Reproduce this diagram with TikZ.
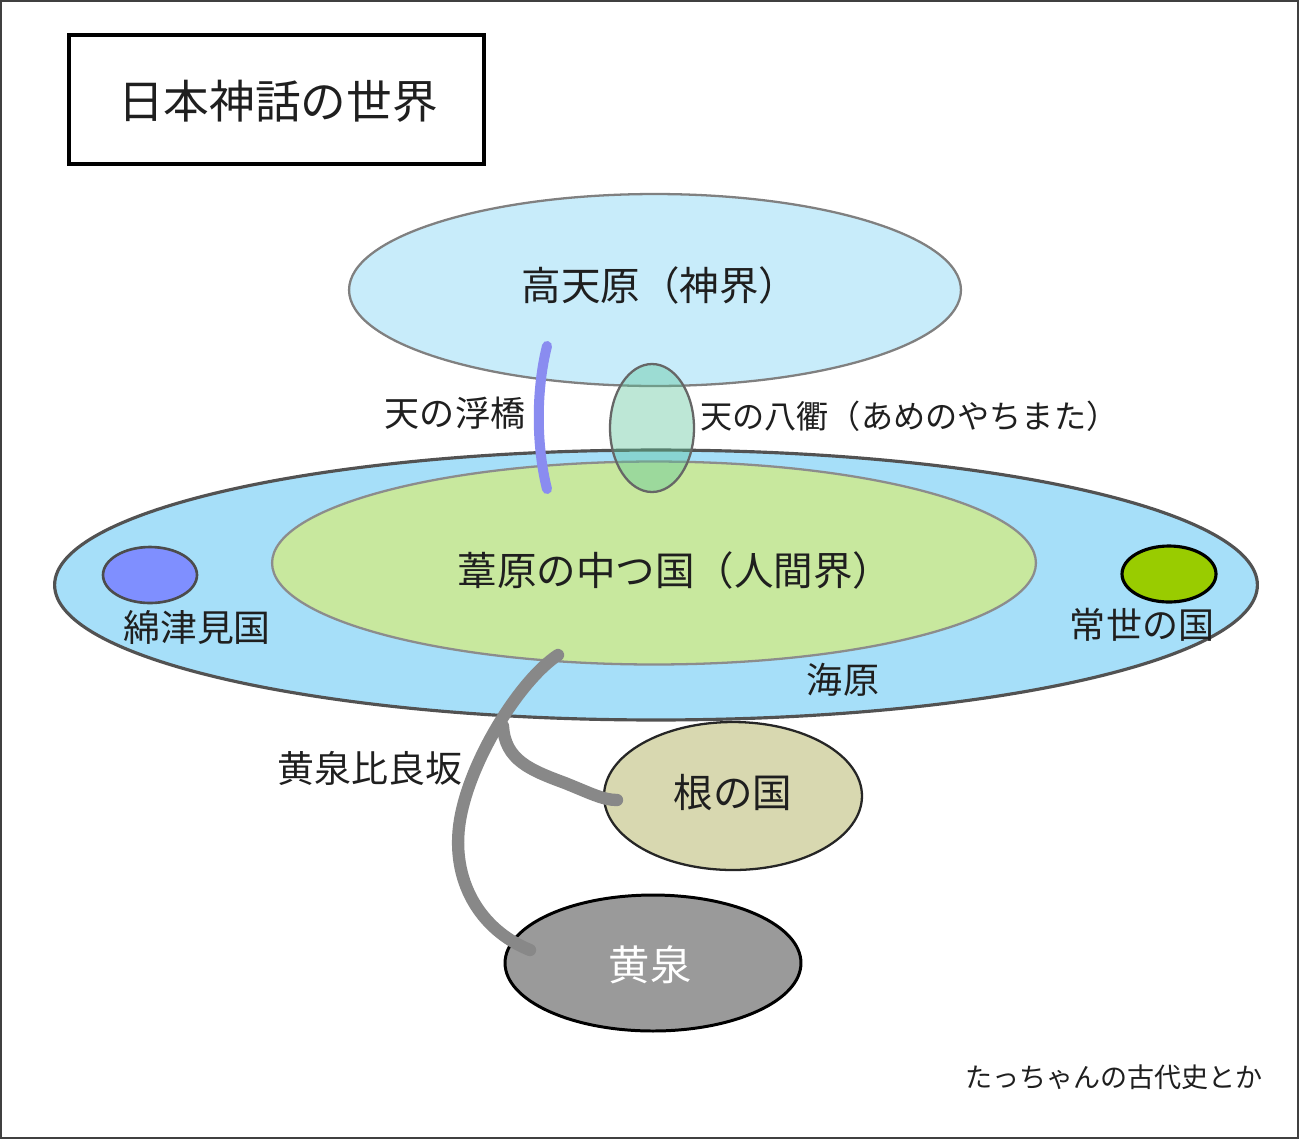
\documentclass[tikz,border=0pt]{standalone}
\usepackage{fontspec}
\newfontfamily\jp{Noto Sans CJK JP}
\usetikzlibrary{shapes.geometric}
\definecolor{takamafill}{HTML}{C8ECFA}
\definecolor{seafill}{HTML}{A6DFF9}
\definecolor{ashifill}{HTML}{C8E89E}
\definecolor{watafill}{HTML}{7F8FFF}
\definecolor{tokofill}{HTML}{99CC00}
\definecolor{nefill}{HTML}{D8D8B0}
\definecolor{yomifill}{HTML}{9A9A9A}
\definecolor{yachifill}{HTML}{5CC49A}
\definecolor{bridgecol}{HTML}{8A8CF0}
\definecolor{roadcol}{HTML}{888888}
\begin{document}
\begin{tikzpicture}[x=0.02cm,y=-0.02cm,
  region/.style={ellipse,inner sep=0pt,outer sep=0pt},
  lbl/.style={font=\jp\fontsize{#1pt}{#1pt}\selectfont,text=black!88,inner sep=0pt},
  road/.style={draw=roadcol,line width=7pt,line cap=round},
]
\fill[white] (0,0) rectangle (1300,1140);
\useasboundingbox (0,0) rectangle (1300,1140);
\draw[line width=1.6pt,black!75] (1,1) rectangle (1298,1138);

% title
\node[draw=black,line width=2pt,minimum width=8.3cm,minimum height=2.58cm,inner sep=0pt] (titlebox) at (276.5,99.5) {};
\node[lbl=26] (title) at (278,101) {日本神話の世界};

% sea
\node[region,draw=black!68,line width=1.8pt,fill=seafill,minimum width=24.06cm,minimum height=5.4cm] (sea) at (656,585) {};
% ashihara
\node[region,draw=black!45,line width=1.3pt,fill=ashifill,minimum width=15.28cm,minimum height=4.06cm] (ashi) at (654,563) {};
% takamagahara
\node[region,draw=black!50,line width=1.3pt,fill=takamafill,minimum width=12.24cm,minimum height=3.84cm] (takama) at (655,290) {};
\node[lbl=22.5] (takamatext) at (660,285) {高天原（神界）};

% watatsumi / tokoyo
\node[region,draw=black!70,line width=1.5pt,fill=watafill,minimum width=1.88cm,minimum height=1.12cm] (wata) at (150,575) {};
\node[region,draw=black,line width=1.8pt,fill=tokofill,minimum width=1.88cm,minimum height=1.12cm] (tokoyo) at (1169,574) {};

\node[lbl=22.5] (ashitext) at (675,570) {葦原の中つ国（人間界）};
\node[lbl=21] (watatext) at (197,627) {綿津見国};
\node[lbl=20.5] (tokoyotext) at (1142,625) {常世の国};
\node[lbl=20.5] (unabara) at (843,680) {海原};

% yachimata
\node[region,draw=black!60,line width=1.3pt,fill=yachifill,fill opacity=0.4,minimum width=1.68cm,minimum height=2.56cm] (yachi) at (652,428) {};
\node[lbl=18.3, anchor=west] (yachitext) at (700,416) {天の八衢（あめのやちまた）};

% bridge
\coordinate (bridgetop) at (547,346);
\coordinate (bridgebot) at (547,489);
\draw[draw=bridgecol,line width=5.7pt,line cap=round] (bridgetop) .. controls (536,390) and (536,445) .. (bridgebot);
\node[lbl=20] (bridgetext) at (455,413) {天の浮橋};

% ne no kuni, yomi
\node[region,draw=black!85,line width=1.3pt,fill=nefill,minimum width=5.16cm,minimum height=2.96cm] (ne) at (733,796) {};
\node[lbl=22.5] (netext) at (733,793) {根の国};
\node[region,draw=black,line width=1.7pt,fill=yomifill,minimum width=5.92cm,minimum height=2.72cm] (yomi) at (653,963) {};
\node[lbl=23.5,text=white] (yomitext) at (650,965) {黄泉};

% yomotsu hirasaka
\coordinate (slopetop) at (558,655);
\coordinate (fork) at (503,726);
\coordinate (neend) at (617,800);
\coordinate (yomiend) at (530,950);
\draw[road] (slopetop) .. controls (520,680) and (470,760) .. (460,820) .. controls (450,880) and (480,930) .. (yomiend);
\draw[road] (fork) .. controls (505,760) and (530,770) .. (565,783) .. controls (590,793) and (603,800) .. (neend);
\node[lbl=21] (slopetext) at (370,768) {黄泉比良坂};

% credit
\node[lbl=15.4, anchor=east] (credit) at (1263,1077) {たっちゃんの古代史とか};
\end{tikzpicture}
\end{document}
